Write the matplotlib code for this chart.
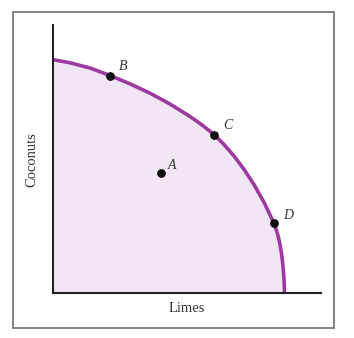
import numpy as np
import matplotlib
matplotlib.use("Agg")
import matplotlib.pyplot as plt
from matplotlib.patches import Rectangle

# frontier (limes, coconuts)
limes = [0, 17.5, 37.5, 57.5, 77.5, 97.5, 117.5, 137.5, 149.5, 161.5, 171.5, 181.5,
         191.5, 201.5, 211.5, 221.5, 224.9, 227.3, 229.0, 230.2, 231.1, 231.7, 232.0]
coconuts = [233.5, 230.2, 225.0, 217.5, 209.2, 199.8, 189.0, 176.5, 168.1, 158.5, 148.5, 137.0,
            123.7, 108.4, 90.7, 69.7, 59.7, 49.7, 39.7, 29.7, 19.7, 9.7, 0]

# labelled points
names = ["A", "B", "C", "D"]
pt_x = [108.8, 57.5, 161.5, 221.5]
pt_y = [119.7, 217.5, 158.5, 69.7]
lbl_dx = [11, 13, 14, 14]
lbl_dy = [8, 9, 9, 8]

purple = "#9c3a9f"
fill = "#f1e6f3"

fig = plt.figure(figsize=(3.54, 3.38), dpi=100)
W, H = 354, 338
fig.add_artist(Rectangle((13 / W, 1 - 328 / H), (334 - 13) / W, (328 - 12) / H,
                         transform=fig.transFigure, fill=False,
                         edgecolor="#7a7a7a", linewidth=1.3))

ax = fig.add_axes([52.5 / W, 45 / H, (321 - 52.5) / W, (293 - 25) / H])
ax.set_xlim(0, 268.5)
ax.set_ylim(0, 268)
ax.patch.set_alpha(0)

ax.fill_between(limes, coconuts, 0, color=fill, linewidth=0, zorder=1)
ax.plot(limes, coconuts, color=purple, linewidth=2.6, solid_capstyle="butt",
        solid_joinstyle="round", zorder=2)
ax.scatter(pt_x, pt_y, s=28, color="#111111", zorder=3)
for n, x, y, dx, dy in zip(names, pt_x, pt_y, lbl_dx, lbl_dy):
    ax.text(x + dx, y + dy, n, fontsize=10, fontstyle="italic",
            family="Liberation Serif", color="#333333", ha="center", va="center")

for s in ["top", "right"]:
    ax.spines[s].set_visible(False)
for s in ["left", "bottom"]:
    ax.spines[s].set_linewidth(1.5)
    ax.spines[s].set_color("#222222")
ax.set_xticks([])
ax.set_yticks([])

fig.text(187 / W, 1 - 309 / H, "Limes", fontsize=10.5, family="Liberation Serif",
         color="#333333", ha="center", va="center")
fig.text(32 / W, 1 - 160 / H, "Coconuts", fontsize=10.5, family="Liberation Serif",
         color="#333333", ha="center", va="center", rotation=90)

fig.savefig("out.png", dpi=100)
